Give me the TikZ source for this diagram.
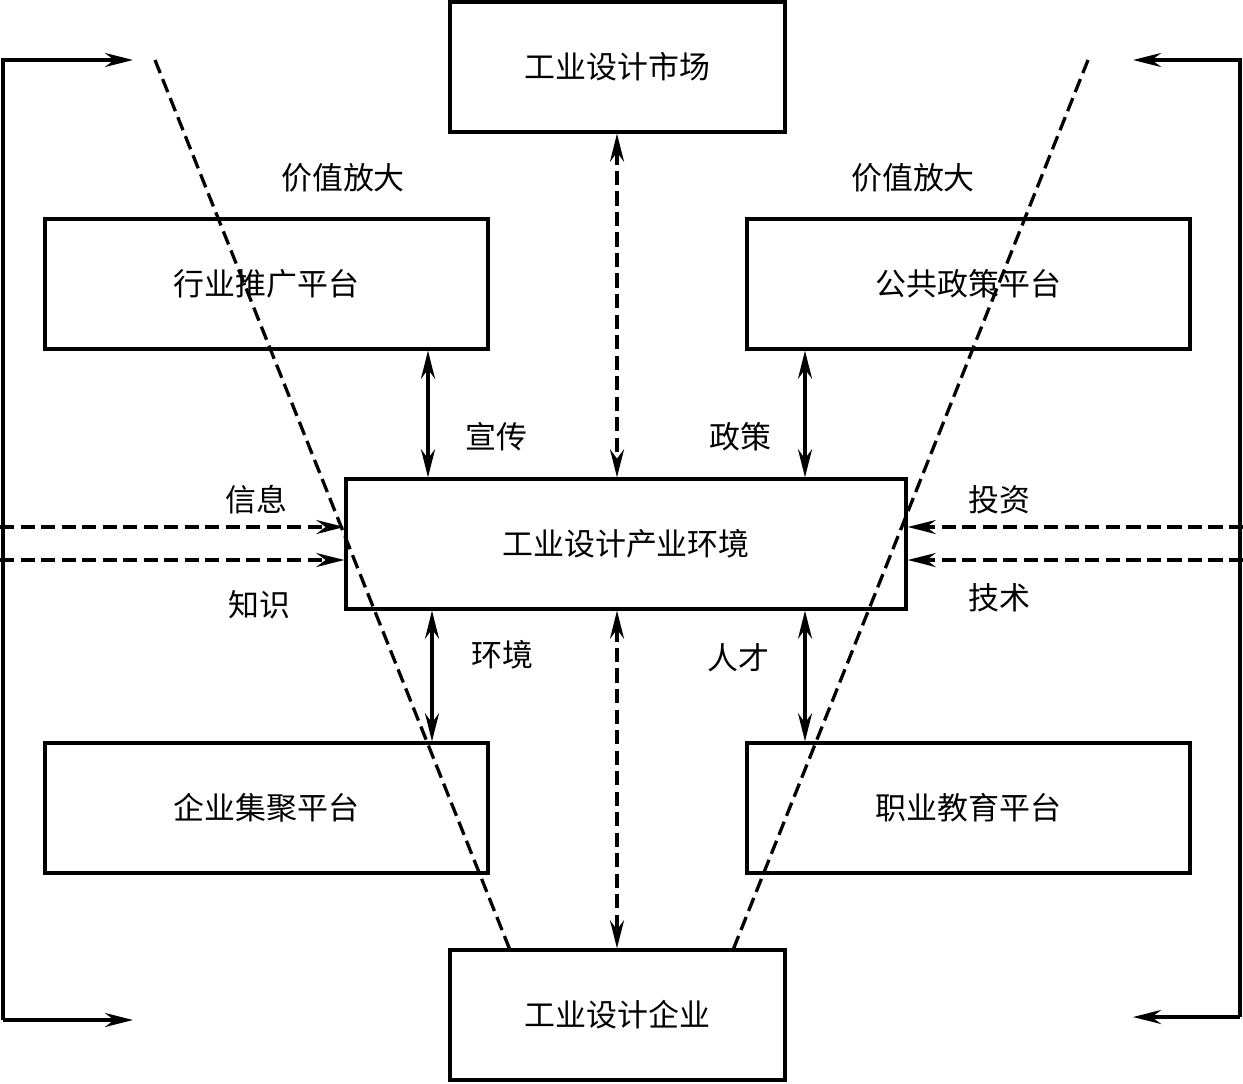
\documentclass[tikz,border=0pt]{standalone}
\usepackage{fontspec}
\newfontfamily\cjk{Noto Sans CJK SC}
\usetikzlibrary{arrows.meta}
\begin{document}
\begin{tikzpicture}
        [x=0.03cm, y=-0.03cm, line width=2.8pt,
         every node/.style={font=\cjk\fontsize{26.4}{30}\selectfont},
         box/.style={draw, minimum height=3.9cm, inner sep=0pt},
         tip/.style={-{Stealth[length=24pt, width=12pt, inset=8pt]}},
         tips/.style={{Stealth[length=24pt, width=12pt, inset=8pt]}-{Stealth[length=24pt, width=12pt, inset=8pt]}},
         dashline/.style={dash pattern=on 12pt off 5.5pt}]
        \useasboundingbox (0,0) rectangle (1243,1083);
        % boxes
        \node (market) [box, minimum width=10.05cm] at (617.5,67) {工业设计市场};
        \node (promo) [box, minimum width=13.29cm] at (266.5,284) {行业推广平台};
        \node (policy) [box, minimum width=13.29cm] at (968.5,284) {公共政策平台};
        \node (env) [box, minimum width=16.8cm] at (626,544) {工业设计产业环境};
        \node (cluster) [box, minimum width=13.29cm] at (266.5,808) {企业集聚平台};
        \node (edu) [box, minimum width=13.29cm] at (968.5,808) {职业教育平台};
        \node (firm) [box, minimum width=10.05cm] at (617.5,1015) {工业设计企业};
        % labels
        \node (lv) at (343,178) {价值放大};
        \node (rv) at (913,178) {价值放大};
        \node (xc) at (496,437) {宣传};
        \node (zc) at (740,437) {政策};
        \node (hj) at (502,655) {环境};
        \node (rc) at (738,658) {人才};
        \node (xx) at (256,500) {信息};
        \node (zs) at (259,605) {知识};
        \node (tz) at (999,500) {投资};
        \node (js) at (999,598) {技术};
        % arrow columns
        \coordinate (ca) at (428,0);
        \coordinate (cb) at (805,0);
        \coordinate (cc) at (432,0);
        \coordinate (cm) at (617,0);
        \draw [tips] (promo.south -| ca) -- (env.north -| ca);
        \draw [tips] (policy.south -| cb) -- (env.north -| cb);
        \draw [tips] (env.south -| cc) -- (cluster.north -| cc);
        \draw [tips] (env.south -| cb) -- (edu.north -| cb);
        \draw [tips, dashline] (market.south -| cm) -- (env.north -| cm);
        \draw [tips, dashline] (env.south -| cm) -- (firm.north -| cm);
        % side inputs
        \coordinate (l1) at (0,527);
        \coordinate (l2) at (0,560);
        \coordinate (r1) at (1243,527);
        \coordinate (r2) at (1243,560);
        \draw [tip, dashline] (l1) -- (l1 -| env.west);
        \draw [tip, dashline] (l2) -- (l2 -| env.west);
        \draw [tip, dashline] (r1) -- (r1 -| env.east);
        \draw [tip, dashline] (r2) -- (r2 -| env.east);
        % funnel
        \coordinate (fl) at (155,60);
        \coordinate (fr) at (1088,60);
        \coordinate (bl) at (510,950);
        \coordinate (br) at (733,950);
        \draw [dashline] (fl) -- (bl);
        \draw [dashline] (fr) -- (br);
        % feedback
        \coordinate (lt) at (133,60);
        \coordinate (lb) at (133,1020);
        \coordinate (rt) at (1133,60);
        \coordinate (rb) at (1133,1017);
        \draw [tip] (lb) ++(-130,0) |- (lt);
        \draw [tip] (lb) ++(-130,0) -- (lb);
        \draw [tip] (rb) ++(107,0) |- (rt);
        \draw [tip] (rb) ++(107,0) -- (rb);
    \end{tikzpicture}
\end{document}
